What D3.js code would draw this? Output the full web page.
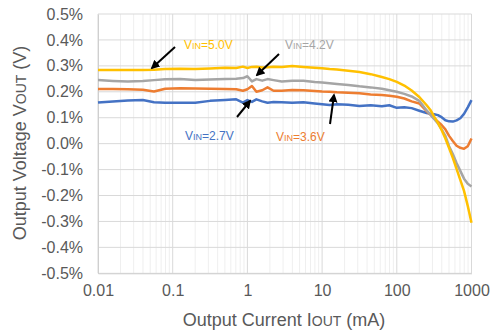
<!DOCTYPE html>
<html><head><meta charset="utf-8">
<script src="https://cdn.jsdelivr.net/npm/d3@7"></script>
<style>html,body{margin:0;padding:0;background:#fff;}svg{display:block;font-family:Arial,"Liberation Sans",sans-serif;}</style>
</head><body>
<svg id="c" width="500" height="336"></svg>
<script>
// Output current (mA)
const currents = [0.01,0.0158,0.0251,0.0398,0.0562,0.0794,0.126,0.2,0.316,0.501,0.708,0.871,1,1.15,1.32,1.58,1.86,2.24,2.88,3.98,5.62,7.94,10,12.6,15.8,22.4,31.6,44.7,63.1,79.4,100,126,158,200,251,282,316,355,398,447,501,562,631,708,794,891,1000];
// Output voltage deviation (%)
const vin27 = [.159,.163,.166,.168,.160,.158,.158,.158,.165,.168,.171,.158,.168,.161,.171,.163,.158,.161,.160,.158,.160,.155,.152,.149,.152,.150,.145,.148,.144,.148,.138,.140,.137,.127,.118,.115,.113,.110,.102,.090,.086,.085,.090,.098,.115,.140,.168];
const vin36 = [.211,.211,.210,.208,.201,.212,.214,.213,.212,.211,.210,.204,.210,.222,.200,.206,.217,.204,.204,.207,.206,.203,.201,.200,.198,.196,.194,.190,.188,.185,.181,.174,.163,.155,.125,.112,.098,.085,.072,.055,.030,.010,-.008,-.016,-.020,-.010,.020];
const vin42 = [.245,.242,.240,.242,.245,.248,.249,.245,.247,.249,.250,.253,.260,.240,.249,.243,.249,.245,.240,.243,.243,.238,.236,.233,.230,.226,.221,.217,.212,.206,.200,.192,.182,.165,.128,.112,.095,.078,.055,.030,-.010,-.040,-.075,-.105,-.135,-.155,-.165];
const vin50 = [.284,.284,.284,.284,.285,.288,.289,.288,.290,.293,.292,.297,.292,.296,.297,.294,.295,.297,.296,.299,.296,.293,.291,.288,.286,.281,.276,.268,.257,.249,.238,.224,.205,.180,.148,.130,.104,.080,.053,.020,-.017,-.055,-.097,-.140,-.182,-.240,-.305];
const xTicks = [0.01,0.1,1,10,100,1000];
const xTickLabels = ["0.01","0.1","1","10","100","1000"];
const yTicks = [0.5,0.4,0.3,0.2,0.1,0,-0.1,-0.2,-0.3,-0.4,-0.5];
const yTickLabels = ["0.5%","0.4%","0.3%","0.2%","0.1%","0.0%","-0.1%","-0.2%","-0.3%","-0.4%","-0.5%"];
const seriesNames = ["2.7V","3.6V","4.2V","5.0V"];
const seriesColors = ["#4472C4","#ED7D31","#A5A5A5","#FFC000"];

const svg = d3.select("#c");
const L=98, R=471.5, T=14, B=273.3;
const x = d3.scaleLog().domain([0.01,1000]).range([L,R]);
const y = d3.scaleLinear().domain([-0.5,0.5]).range([B,T]);

// minor vertical grid
const minor = [];
for (let d=-2; d<3; d++) for (let m=2; m<10; m++) minor.push(m*Math.pow(10,d));
svg.append("g").selectAll("line").data(minor).join("line")
  .attr("x1",d=>x(d)).attr("x2",d=>x(d)).attr("y1",T).attr("y2",B)
  .attr("stroke","#efefef").attr("stroke-width",1);
// major grid
svg.append("g").selectAll("line").data(yTicks).join("line")
  .attr("x1",L).attr("x2",R).attr("y1",d=>y(d)).attr("y2",d=>y(d))
  .attr("stroke","#d9d9d9").attr("stroke-width",1);
svg.append("g").selectAll("line").data(xTicks).join("line")
  .attr("x1",d=>x(d)).attr("x2",d=>x(d)).attr("y1",T).attr("y2",B)
  .attr("stroke","#d9d9d9").attr("stroke-width",1);

// axes labels
const yAxis = d3.axisLeft(y).tickValues(yTicks).tickFormat((d,i)=>yTickLabels[i]).tickSize(0).tickPadding(15);
const gy = svg.append("g").attr("transform",`translate(${L},0)`).call(yAxis);
gy.select(".domain").attr("stroke","#cfcfcf");
gy.selectAll("text").attr("font-size",16).attr("fill","#595959").attr("font-family","Arial,'Liberation Sans',sans-serif");
const xAxis = d3.axisBottom(x).tickValues(xTicks).tickFormat((d,i)=>xTickLabels[i]).tickSize(0).tickPadding(11);
const gx = svg.append("g").attr("transform",`translate(0,${B})`).call(xAxis);
gx.select(".domain").attr("stroke","#cfcfcf");
gx.selectAll("text").attr("font-size",16).attr("fill","#595959").attr("font-family","Arial,'Liberation Sans',sans-serif");

// lines
const all = [vin27,vin36,vin42,vin50];
const line = d3.line().x((d,i)=>x(currents[i])).y(d=>y(d));
svg.append("g").selectAll("path").data(all).join("path")
  .attr("d",d=>line(d)).attr("fill","none")
  .attr("stroke",(d,i)=>seriesColors[i]).attr("stroke-width",2.5).attr("stroke-linejoin","round");

// annotations
const ann = [
  {i:3, tx:184, ty:49, a:[175,47,152,68]},
  {i:2, tx:285, ty:49, a:[279,54,257,75]},
  {i:0, tx:185, ty:140, a:[237,117,250,101]},
  {i:1, tx:276, ty:141, a:[330,124,334,95]}
];
const defs = svg.append("defs");
defs.append("marker").attr("id","ah").attr("viewBox","0 0 10 10").attr("refX",8).attr("refY",5)
  .attr("markerWidth",4.5).attr("markerHeight",4.5).attr("orient","auto")
  .append("path").attr("d","M0,0L10,5L0,10Z").attr("fill","#000");
ann.forEach(a=>{
  const t = svg.append("text").attr("x",a.tx).attr("y",a.ty).attr("font-size",12).attr("fill",seriesColors[a.i]);
  t.append("tspan").text("V");
  t.append("tspan").attr("font-size",9).text("IN");
  t.append("tspan").text("="+seriesNames[a.i]);
  svg.append("line").attr("x1",a.a[0]).attr("y1",a.a[1]).attr("x2",a.a[2]).attr("y2",a.a[3])
    .attr("stroke","#000").attr("stroke-width",2).attr("marker-end","url(#ah)");
});

// axis titles
const xt = svg.append("text").attr("x",284).attr("y",326).attr("text-anchor","middle").attr("font-size",18).attr("fill","#595959");
xt.append("tspan").text("Output Current I");
xt.append("tspan").attr("font-size",14).text("OUT");
xt.append("tspan").text(" (mA)");
const yt = svg.append("text").attr("transform","translate(26,143) rotate(-90)").attr("text-anchor","middle").attr("font-size",18).attr("fill","#595959");
yt.append("tspan").text("Output Voltage V");
yt.append("tspan").attr("font-size",14).text("OUT");
yt.append("tspan").text(" (V)");
</script>
</body></html>
